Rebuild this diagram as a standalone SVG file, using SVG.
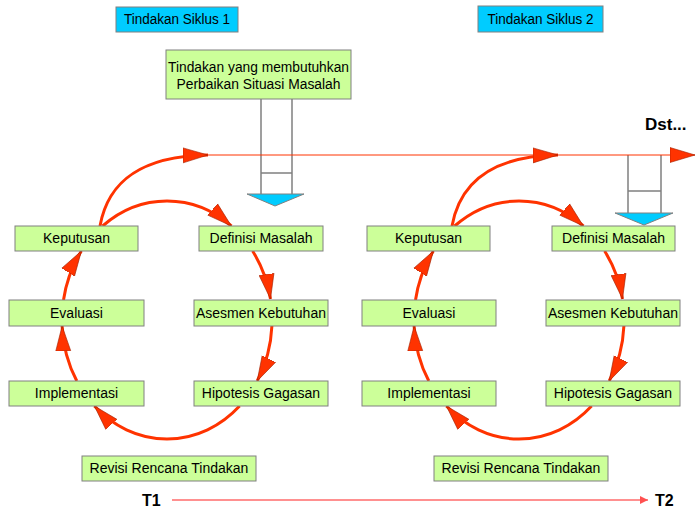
<svg xmlns="http://www.w3.org/2000/svg" width="696" height="512" viewBox="0 0 696 512">
<style>
  .g rect{fill:#ccff99;stroke:#808080;stroke-width:1}
  .c rect{fill:#00ccff;stroke:#808080;stroke-width:1}
  text{font-family:"Liberation Sans",Arial,sans-serif;font-size:14px;fill:#000;text-anchor:middle}
  .big{font-size:16px;font-weight:bold;fill:#000;text-anchor:start}
  .cyc{fill:none;stroke:#ff3300;stroke-width:3;marker-end:url(#ah)}
  .thin{fill:none;stroke:#ff3300;stroke-width:1}
  .gray{fill:none;stroke:#808080;stroke-width:1.5}
  .tri{fill:#00ccff;stroke:#808080;stroke-width:1}
</style>
<defs>
  <marker id="ah" markerUnits="userSpaceOnUse" markerWidth="30" markerHeight="20" refX="25" refY="8.5" orient="auto">
    <path d="M0,1 L25,8.5 L0,16 z" fill="#ff3300" stroke="#a02000" stroke-width="0.6"/>
  </marker>
  <marker id="sm" markerUnits="userSpaceOnUse" markerWidth="10" markerHeight="10" refX="8" refY="4" orient="auto">
    <path d="M0,0 L8,4 L0,8 z" fill="#ff5050"/>
  </marker>
</defs>
<rect width="696" height="512" fill="#ffffff"/>

<g id="connectors">
  <path class="gray" d="M261,99 V194 M292,99 V194 M261,173 H292"/>
  <polygon class="tri" points="247,194 304,194 275,206"/>
  <path class="gray" d="M628,155 V213 M661,155 V213 M628,191 H661"/>
  <polygon class="tri" points="615,213 673,213 644,225"/>
  <path class="thin" d="M208,155 H695" marker-end="url(#ah)"/>
  <path class="cyc" d="M100,226 C108,182 140,156 208,155"/>
  <path class="cyc" d="M102.6,226 A105,119 0 0 1 231.4,226"/>
  <path class="cyc" d="M252.6,251 A105,119 0 0 1 270.5,299"/>
  <path class="cyc" d="M271.9,326 A105,119 0 0 1 257.2,381"/>
  <path class="cyc" d="M239.6,406 A105,119 0 0 1 94.4,406"/>
  <path class="cyc" d="M76.8,381 A105,119 0 0 1 62.1,326"/>
  <path class="cyc" d="M63.5,300 A105,119 0 0 1 81.4,251"/>
  <path class="cyc" d="M452,226 C460,182 492,156 558,155"/>
  <path class="cyc" d="M454.6,226 A105,119 0 0 1 583.4,226"/>
  <path class="cyc" d="M604.6,251 A105,119 0 0 1 622.5,299"/>
  <path class="cyc" d="M623.9,326 A105,119 0 0 1 609.2,381"/>
  <path class="cyc" d="M591.6,406 A105,119 0 0 1 446.4,406"/>
  <path class="cyc" d="M428.8,381 A105,119 0 0 1 414.1,326"/>
  <path class="cyc" d="M415.5,300 A105,119 0 0 1 433.4,251"/>
  <path d="M172,500 H648" fill="none" stroke="#ff9090" stroke-width="2" marker-end="url(#sm)"/>
</g>

<g id="siklus1" class="c"><rect x="116" y="7" width="122" height="25"/><text x="177" y="24" textLength="106" lengthAdjust="spacingAndGlyphs">Tindakan Siklus 1</text></g>
<g id="siklus2" class="c"><rect x="478" y="6" width="125" height="26"/><text x="540.5" y="24" textLength="106" lengthAdjust="spacingAndGlyphs">Tindakan Siklus 2</text></g>
<g id="perbaikan" class="g"><rect x="166" y="50" width="185" height="49"/>
  <text x="258.5" y="72" textLength="181" lengthAdjust="spacingAndGlyphs">Tindakan yang membutuhkan</text>
  <text x="258.5" y="89" textLength="164" lengthAdjust="spacingAndGlyphs">Perbaikan Situasi Masalah</text></g>

<g id="keputusan1" class="g"><rect x="15" y="226" width="123" height="25"/><text x="76.5" y="243">Keputusan</text></g>
<g id="definisi1" class="g"><rect x="199" y="226" width="124" height="25"/><text x="261" y="243" textLength="103" lengthAdjust="spacingAndGlyphs">Definisi Masalah</text></g>
<g id="evaluasi1" class="g"><rect x="9" y="300" width="135" height="26"/><text x="76.5" y="318">Evaluasi</text></g>
<g id="asesmen1" class="g"><rect x="194" y="300" width="134" height="26"/><text x="261" y="318">Asesmen Kebutuhan</text></g>
<g id="implementasi1" class="g"><rect x="9" y="381" width="135" height="25"/><text x="76.5" y="398">Implementasi</text></g>
<g id="hipotesis1" class="g"><rect x="194" y="381" width="134" height="25"/><text x="261" y="398">Hipotesis Gagasan</text></g>
<g id="revisi1" class="g"><rect x="82" y="456" width="174" height="25"/><text x="169" y="473">Revisi Rencana Tindakan</text></g>

<g id="keputusan2" class="g"><rect x="367" y="226" width="123" height="25"/><text x="428.5" y="243">Keputusan</text></g>
<g id="definisi2" class="g"><rect x="552" y="226" width="123" height="25"/><text x="613.5" y="243" textLength="103" lengthAdjust="spacingAndGlyphs">Definisi Masalah</text></g>
<g id="evaluasi2" class="g"><rect x="362" y="300" width="134" height="26"/><text x="429" y="318">Evaluasi</text></g>
<g id="asesmen2" class="g"><rect x="546" y="300" width="134" height="26"/><text x="613" y="318">Asesmen Kebutuhan</text></g>
<g id="implementasi2" class="g"><rect x="362" y="381" width="134" height="25"/><text x="429" y="398">Implementasi</text></g>
<g id="hipotesis2" class="g"><rect x="546" y="381" width="134" height="25"/><text x="613" y="398">Hipotesis Gagasan</text></g>
<g id="revisi2" class="g"><rect x="434" y="456" width="174" height="25"/><text x="521" y="473">Revisi Rencana Tindakan</text></g>

<g id="labels">
  <text class="big" x="645" y="130" style="font-size:17px">Dst...</text>
  <text class="big" x="142" y="506">T1</text>
  <text class="big" x="655" y="506">T2</text>
</g>
</svg>
